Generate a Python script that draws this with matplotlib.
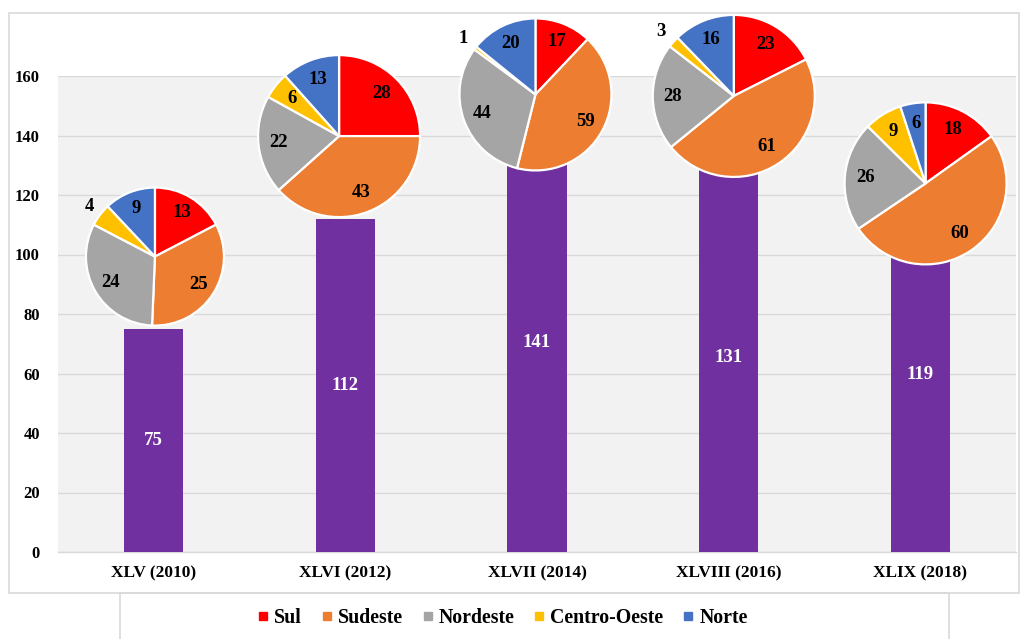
import math
import matplotlib
matplotlib.use("Agg")
import matplotlib.pyplot as plt
from matplotlib.patches import Rectangle
from matplotlib.lines import Line2D
from matplotlib.font_manager import FontProperties

plt.rcParams["font.family"] = ["Liberation Serif", "DejaVu Serif"]
plt.rcParams["font.weight"] = "bold"

# Data
editions = ["XLV (2010)", "XLVI (2012)", "XLVII (2014)", "XLVIII (2016)", "XLIX (2018)"]
totals = [75, 112, 141, 131, 119]
regions = ["Sul", "Sudeste", "Nordeste", "Centro-Oeste", "Norte"]
sul = [13, 28, 17, 23, 18]
sudeste = [25, 43, 59, 61, 60]
nordeste = [24, 22, 44, 28, 26]
centro_oeste = [4, 6, 1, 3, 9]
norte = [9, 13, 20, 16, 6]
yticks = [0, 20, 40, 60, 80, 100, 120, 140, 160]

# Styles / layout
bar_color = "#7030A0"
region_colors = ["#FF0000", "#ED7D31", "#A5A5A5", "#FFC000", "#4472C4"]
grid_color = "#D9D9D9"
plot_bg = "#F2F2F2"
# pie centre: (x shift in category units, y in data units), radius in pixels
pie_dx = [0.006, -0.033, -0.008, 0.027, 0.028]
pie_cy = [99.3, 139.8, 153.8, 153.3, 123.9]
pie_r_px = [69, 81, 76, 81, 81]
outside_below = 5

W, H = 1021, 639
fig = plt.figure(figsize=(W / 100, H / 100), dpi=100)
fig.patch.set_facecolor("white")

# Chart and legend frames
fig.add_artist(Rectangle((9 / W, (H - 593) / H), (1019 - 9) / W, (593 - 13) / H,
                         transform=fig.transFigure, fill=False,
                         edgecolor=grid_color, lw=1.2, zorder=0))
fig.add_artist(Rectangle((120 / W, -0.02), (949 - 120) / W, (H - 593) / H + 0.02,
                         transform=fig.transFigure, fill=False,
                         edgecolor=grid_color, lw=1.2, zorder=0))

ax_left, ax_right, ax_bottom, ax_top = 58, 1016, 552, 76
ax = fig.add_axes([ax_left / W, (H - ax_bottom) / H,
                   (ax_right - ax_left) / W, (ax_bottom - ax_top) / H])
ax.set_facecolor(plot_bg)
x = list(range(len(editions)))
ax.bar(x, totals, width=0.31, color=bar_color, zorder=3)
ax.set_xlim(-0.5, len(editions) - 0.5)
ax.set_ylim(0, 160)
ax.set_yticks(yticks)
ax.set_xticks(x)
ax.set_xticklabels(editions, fontsize=12.5, fontweight="bold")
ax.tick_params(axis="y", length=0, pad=13, labelsize=12)
ax.tick_params(axis="x", length=0, pad=10)
for lab in ax.get_yticklabels():
    lab.set_fontweight("bold")
ax.yaxis.grid(True, color=grid_color, lw=1, zorder=0)
ax.set_axisbelow(True)
for s in ["top", "right", "left"]:
    ax.spines[s].set_visible(False)
ax.spines["bottom"].set_color(grid_color)
ax.spines["bottom"].set_linewidth(1)

for xi, v in zip(x, totals):
    ax.text(xi, v / 2, str(v), ha="center", va="center", color="white",
            fontsize=13.5, fontweight="bold", zorder=4)

# Regional breakdown pies above each bar
breakdown = list(zip(sul, sudeste, nordeste, centro_oeste, norte))
for i, vals in enumerate(breakdown):
    cx, cy = ax.transData.transform((x[i] + pie_dx[i], pie_cy[i]))
    r = pie_r_px[i]
    pax = fig.add_axes([(cx - r) / W, (cy - r) / H, 2 * r / W, 2 * r / H])
    wedges, _ = pax.pie(vals, colors=region_colors, startangle=90,
                        counterclock=False, radius=1,
                        wedgeprops=dict(edgecolor="white", linewidth=1.6))
    for w in wedges:
        w.set_clip_on(False)
    pax.set_xlim(-1, 1)
    pax.set_ylim(-1, 1)
    pax.set_aspect("equal")
    pax.axis("off")
    total = sum(vals)
    cum = 0
    for v in vals:
        mid = (cum + v / 2) / total * 360
        cum += v
        dist = 1.2 if v < outside_below else 0.75
        ang = math.radians(90 - mid)
        pax.text(dist * math.cos(ang), dist * math.sin(ang), str(v),
                 ha="center", va="center", fontsize=13.5, fontweight="bold",
                 color="black", clip_on=False)

# Legend
legend_font = FontProperties(family=["Liberation Serif"], weight="bold", size=14.3)
handles = [Line2D([0], [0], marker="s", linestyle="none", markersize=6,
                  markerfacecolor=c, markeredgecolor=c) for c in region_colors]
leg = fig.legend(handles, regions, loc="center", ncol=5,
                 bbox_to_anchor=(503 / W, (H - 618) / H), frameon=False,
                 prop=legend_font, handlelength=0.5, handletextpad=0.3,
                 columnspacing=1.0)
for t in leg.get_texts():
    t.set_fontfamily(["Liberation Serif"])
    t.set_fontweight("bold")

fig.savefig("out.png", dpi=100)
